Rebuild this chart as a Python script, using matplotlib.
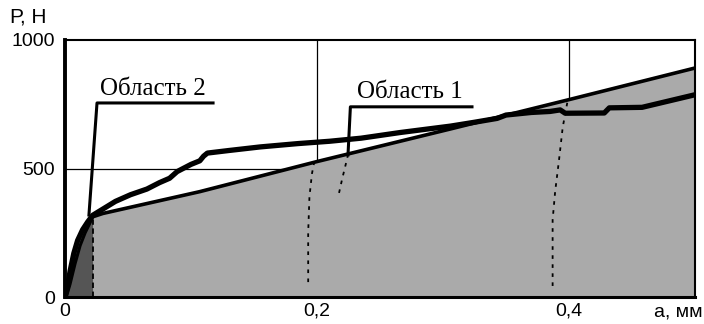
import matplotlib
matplotlib.use('Agg')
import matplotlib.pyplot as plt
import numpy as np

# loading curve (upper, irregular)
load_a = [0.0, 0.002, 0.004, 0.007, 0.010, 0.014, 0.018, 0.022, 0.030, 0.040, 0.052,
          0.065, 0.075, 0.083, 0.089, 0.100, 0.107, 0.110, 0.113, 0.130, 0.155,
          0.185, 0.210, 0.235, 0.266, 0.290, 0.306, 0.325, 0.343, 0.350, 0.370,
          0.385, 0.393, 0.397, 0.428, 0.432, 0.458, 0.470, 0.500]
load_p = [0, 40, 100, 170, 220, 262, 292, 318, 342, 372, 398,
          420, 445, 462, 488, 516, 530, 548, 560, 570, 584,
          597, 606, 618, 640, 655, 665, 680, 695, 708, 718,
          722, 728, 715, 716, 736, 738, 752, 787]

# second loading curve near the origin
load2_a = [0.001, 0.004, 0.008, 0.012, 0.016, 0.020, 0.022]
load2_p = [0, 50, 130, 200, 250, 290, 312]

# elastic line bounding region 1
line_a = [0.022, 0.030, 0.107, 0.200, 0.306, 0.400, 0.500]
line_p = [312, 325, 410, 527, 654, 768, 891]

# unloading curves (dotted)
unl1_a = [0.193, 0.193, 0.194, 0.196, 0.198]
unl1_p = [58, 250, 390, 480, 530]
unl2_a = [0.2175, 0.220, 0.2225, 0.2246]
unl2_p = [405, 460, 510, 553]
unl3_a = [0.387, 0.387, 0.389, 0.392, 0.395, 0.399]
unl3_p = [43, 300, 410, 530, 660, 766]

x_ticks = [0, 0.2, 0.4]
x_labels = ['0', '0,2', '0,4']
y_ticks = [0, 500, 1000]
y_labels = ['0', '500', '1000']

fig = plt.figure(figsize=(7.04, 3.24), dpi=100)
ax = fig.add_axes([65 / 704, 27 / 324, 630 / 704, 257 / 324])
ax.set_xlim(0, 0.5)
ax.set_ylim(0, 1000)

# grid lines
for gx in [0.2, 0.4]:
    ax.axvline(gx, color='black', lw=0.9, zorder=1)
ax.axhline(500, color='black', lw=0.9, zorder=1)

# region 1 (light) and region 2 (dark)
ax.fill_between(line_a, line_p, 0, color='#aaaaaa', lw=0, zorder=2)
ax.fill_between(load_a[:8], load_p[:8], 0, color='#555555', lw=0, zorder=2)
ax.plot([0.022, 0.022], [0, 312], color='black', lw=1.3, ls=(0, (3, 2)), zorder=3)

# unloading curves
for ua, up in [(unl1_a, unl1_p), (unl2_a, unl2_p), (unl3_a, unl3_p)]:
    ax.plot(ua, up, color='black', lw=1.3, ls=(0, (2, 3)), zorder=3)

ax.plot(line_a, line_p, color='black', lw=2.6, zorder=4)
ax.plot(load2_a, load2_p, color='black', lw=2.2, zorder=4)
ax.plot(load_a, load_p, color='black', lw=3.8, zorder=5)

# region labels with leaders
ax.plot([0.019, 0.0254, 0.1175], [319, 755, 755], color='black', lw=2.2, zorder=6)
ax.text(0.0275, 768, 'Область 2', family='Liberation Serif', fontsize=18,
        ha='left', va='bottom', zorder=6)
ax.plot([0.2246, 0.2265, 0.323], [553, 740, 740], color='black', lw=2.2, zorder=6)
ax.text(0.232, 753, 'Область 1', family='Liberation Serif', fontsize=18,
        ha='left', va='bottom', zorder=6)

for side, w in [('left', 2.8), ('bottom', 2.2), ('top', 1.5), ('right', 1.5)]:
    ax.spines[side].set_linewidth(w)
    ax.spines[side].set_zorder(7)

ax.set_xticks(x_ticks)
ax.set_xticklabels(x_labels)
ax.set_yticks(y_ticks)
ax.set_yticklabels(y_labels)
ax.tick_params(length=0, labelsize=14)
ax.tick_params(axis='y', pad=7)
ax.tick_params(axis='x', pad=4)
for lab in ax.get_xticklabels() + ax.get_yticklabels():
    lab.set_family('Liberation Sans')

fig.text(10 / 704, 1 - 17 / 324, 'Р, Н', family='Liberation Sans', fontsize=15,
         ha='left', va='center')
fig.text(703 / 704, 1 - 312 / 324, 'а, мм', family='Liberation Sans', fontsize=14,
         ha='right', va='center')

fig.savefig('out.png', dpi=100)
